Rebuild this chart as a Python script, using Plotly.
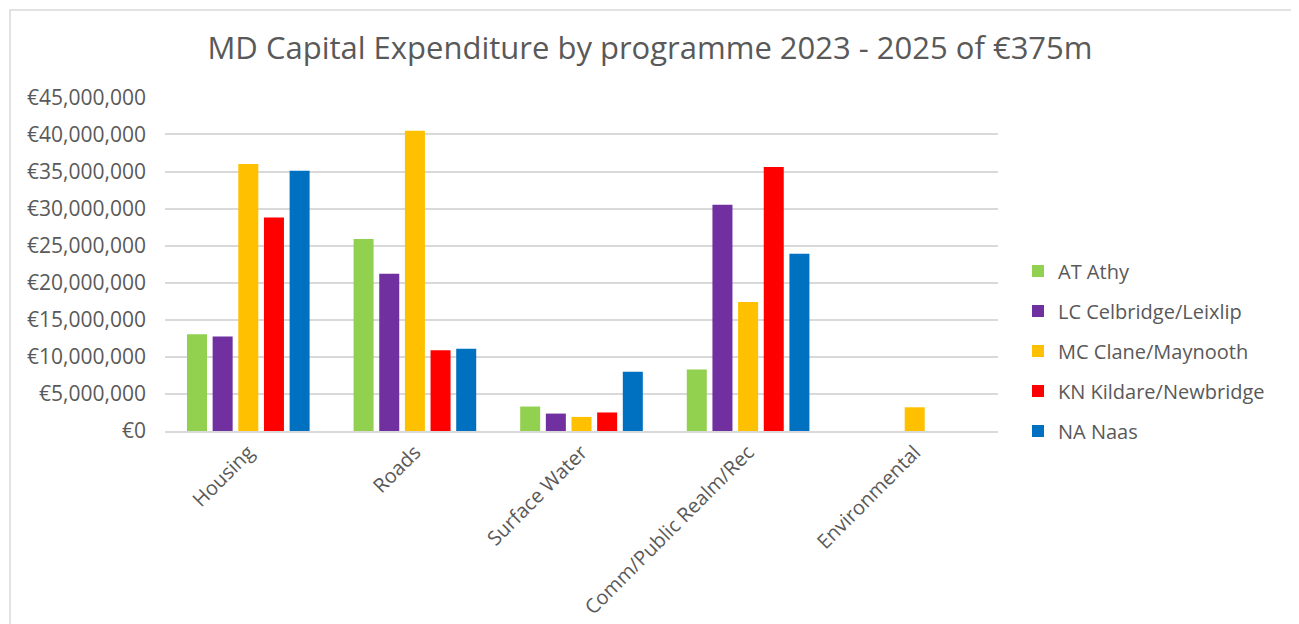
import plotly.graph_objects as go

categories = ["Housing", "Roads", "Surface Water", "Comm/Public Realm/Rec", "Environmental"]

series_names = ["AT Athy", "LC Celbridge/Leixlip", "MC Clane/Maynooth",
                "KN Kildare/Newbridge", "NA Naas"]
athy = [13050000, 25900000, 3300000, 8300000, 0]
celbridge = [12750000, 21200000, 2350000, 30500000, 0]
clane = [36000000, 40500000, 1900000, 17400000, 3200000]
kildare = [28800000, 10900000, 2500000, 35600000, 0]
naas = [35100000, 11100000, 8000000, 23900000, 0]

tick_vals = [0, 5e6, 10e6, 15e6, 20e6, 25e6, 30e6, 35e6, 40e6, 45e6]
tick_text = ["€0", "€5,000,000", "€10,000,000", "€15,000,000", "€20,000,000",
             "€25,000,000", "€30,000,000", "€35,000,000", "€40,000,000", "€45,000,000"]

colors = ["#92d050", "#7030a0", "#ffc000", "#ff0000", "#0070c0"]

# page body has an 8px margin, so positions are shifted by 8px
W, H = 1299, 624
L, R, T, B = 157, 309, 89, 201
pw, ph = W - L - R, H - T - B

fig = go.Figure()
for name, vals, c in zip(series_names, [athy, celbridge, clane, kildare, naas], colors):
    fig.add_trace(go.Bar(x=categories, y=vals, name=name, marker_color=c,
                         marker_line_width=0, legendgroup=name))

# outer chart border
fig.add_shape(type="rect", xref="paper", yref="paper",
              x0=(2 - L) / pw, x1=(1285 - L) / pw,
              y0=-(700 - (T + ph)) / ph, y1=1 + (T - 2) / ph,
              line=dict(color="#d9d9d9", width=1.5), layer="below")

fig.update_layout(
    width=W, height=H,
    margin=dict(l=L, r=R, t=T, b=B, autoexpand=False),
    paper_bgcolor="white", plot_bgcolor="white",
    font=dict(family="Open Sans, sans-serif", color="#595959"),
    title=dict(text="MD Capital Expenditure by programme 2023 - 2025 of €375m",
               x=(650 - 8) / W, xanchor="center", y=1 - 40 / H, yanchor="middle",
               font=dict(size=31, color="#595959")),
    barmode="group", bargap=0.23, bargroupgap=0.22,
    showlegend=True,
    legend=dict(x=(1010 - L) / pw, xanchor="left", y=(T + ph - 343) / ph, yanchor="middle",
                font=dict(size=20, color="#595959"), tracegroupgap=11,
                traceorder="grouped", itemwidth=30),
    xaxis=dict(tickangle=-45, tickfont=dict(size=20, color="#595959"),
               showline=True, linecolor="#d9d9d9", linewidth=1.5, ticks=""),
    yaxis=dict(range=[0, 45.05e6], tickvals=tick_vals, ticktext=tick_text,
               tickfont=dict(size=21, color="#595959"), ticklabelstandoff=18,
               showgrid=True, gridcolor="#d9d9d9", gridwidth=1.5,
               zeroline=False, ticks="", ticklen=0),
)

fig.write_html("out.html")
